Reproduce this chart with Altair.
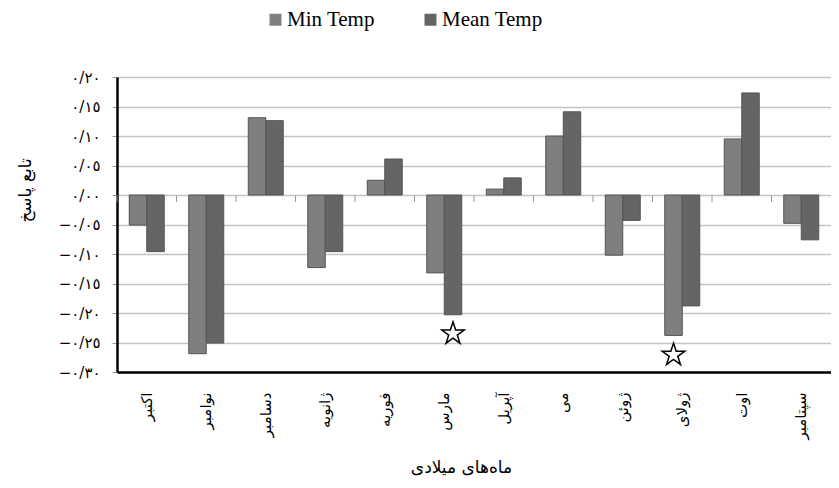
import altair as alt
import pandas as pd

months = ["اکتبر", "نوامبر", "دسامبر", "ژانویه", "فوریه", "مارس",
          "آپریل", "می", "ژوئن", "ژولای", "اوت", "سپتامبر"]
series = ["Min Temp", "Mean Temp"]
min_temp = [-0.051, -0.269, 0.131, -0.123, 0.025, -0.132,
            0.010, 0.100, -0.102, -0.238, 0.095, -0.048]
mean_temp = [-0.096, -0.251, 0.126, -0.096, 0.061, -0.203,
             0.029, 0.141, -0.043, -0.188, 0.173, -0.076]
colors = ["#7f7f7f", "#656565"]

# significance stars: (month, value) on the Mean bar and on the Min bar
star_mean_months = ["مارس"]
star_mean_values = [-0.235]
star_min_months = ["ژولای"]
star_min_values = [-0.271]

y_ticks = [-30, -25, -20, -15, -10, -5, 0, 5, 10, 15, 20]
y_tick_labels = ["−٠/٣٠", "−٠/٢٥", "−٠/٢٠", "−٠/١٥", "−٠/١٠", "−٠/٠٥",
                 "٠/٠٠", "٠/٠٥", "٠/١٠", "٠/١٥", "٠/٢٠"]

x_title = "ماه‌های میلادی"
y_title = "تابع پاسخ"

STAR_PATH = ("M0,-1L0.225,-0.309L0.951,-0.309L0.363,0.118L0.588,0.809L0,0.382"
             "L-0.588,0.809L-0.363,0.118L-0.951,-0.309L-0.225,-0.309Z")

rows = []
for m, a, b in zip(months, min_temp, mean_temp):
    rows.append({"month": m, "series": series[0], "value": a})
    rows.append({"month": m, "series": series[1], "value": b})
df = pd.DataFrame(rows)
df_ticks = pd.DataFrame({"month": months})
df_star_mean = pd.DataFrame({"month": star_mean_months, "value": star_mean_values})
df_star_min = pd.DataFrame({"month": star_min_months, "value": star_min_values})

label_expr = "[" + ",".join('"%s"' % s for s in y_tick_labels) + "][indexof([" + \
    ",".join(str(v) for v in y_ticks) + "], round(datum.value*100))]"

x_axis = alt.Axis(
    title=x_title, orient="bottom", labelAngle=270, labelPadding=20, ticks=False, grid=False,
    domainColor="black", domainWidth=2.5, labelFont="DejaVu Sans", labelFontSize=15,
    labelColor="black", titleFont="DejaVu Sans", titleFontSize=17, titleFontWeight="normal",
    titleColor="black", titleX=344, titleY=95, titleAlign="center", titleBaseline="middle",
    titleAngle=0,
)
y_axis = alt.Axis(
    title=y_title, values=[v / 100 for v in y_ticks], labelExpr=label_expr,
    grid=True, gridColor="#c4c4c4", gridWidth=1.6, domainColor="black", domainWidth=2.5,
    tickColor="#9a9a9a", tickSize=5, tickWidth=1, labelPadding=12,
    labelFont="DejaVu Sans", labelFontSize=15, labelColor="black",
    titleFont="DejaVu Sans", titleFontSize=17, titleFontWeight="normal", titleColor="black",
    titleX=-92, titleY=113, titleAngle=270, titleAlign="center", titleBaseline="middle",
)
pad_outer = 0.70
x_scale = alt.Scale(domain=months, paddingInner=0, paddingOuter=0)
y_scale = alt.Scale(domain=[-0.30, 0.20], nice=False, zero=False)
off_scale = alt.Scale(domain=series, paddingInner=0, paddingOuter=pad_outer)

bars = alt.Chart(df).mark_bar(stroke="#555555", strokeWidth=1).encode(
    x=alt.X("month:N", scale=x_scale, axis=x_axis, sort=months),
    xOffset=alt.XOffset("series:N", sort=series, scale=off_scale),
    y=alt.Y("value:Q", scale=y_scale, axis=y_axis),
    color=alt.Color("series:N", sort=series,
                    scale=alt.Scale(domain=series, range=colors),
                    legend=alt.Legend(title=None, orient="none", legendX=148, legendY=-68,
                                      direction="horizontal", symbolType="square",
                                      symbolSize=144, symbolStrokeWidth=0,
                                      labelFont="Liberation Serif", labelFontSize=21,
                                      labelColor="black", labelOffset=1, columnPadding=45)),
)

zero_ticks = alt.Chart(df_ticks).mark_rule(color="#9a9a9a", strokeWidth=1).encode(
    x=alt.X("month:N", scale=x_scale, axis=x_axis, sort=months, bandPosition=0),
    y=alt.Y(datum=0, scale=y_scale, axis=y_axis),
    y2=alt.Y2(datum=-0.012),
)

# position of each series' bar centre inside a month band
step_units = 2 + 2 * pad_outer
band_min = (pad_outer + 0.5) / step_units
band_mean = (pad_outer + 1.5) / step_units


def star_layer(data, band):
    return alt.Chart(data).mark_point(
        shape=STAR_PATH, filled=True, fill="white", stroke="black", strokeWidth=1.5,
        size=560, opacity=1
    ).encode(
        x=alt.X("month:N", scale=x_scale, axis=x_axis, sort=months, bandPosition=band),
        y=alt.Y("value:Q", scale=y_scale, axis=y_axis),
    )


chart = alt.layer(bars, zero_ticks, star_layer(df_star_mean, band_mean),
                  star_layer(df_star_min, band_min)).properties(
    width=714, height=295,
    autosize=alt.AutoSizeParams(type="none"),
    padding={"left": 109, "top": 69, "right": 0, "bottom": 108},
).configure_view(stroke=None).configure(background="white")

chart.save("out.html", embed_options={"renderer": "svg", "actions": False})
